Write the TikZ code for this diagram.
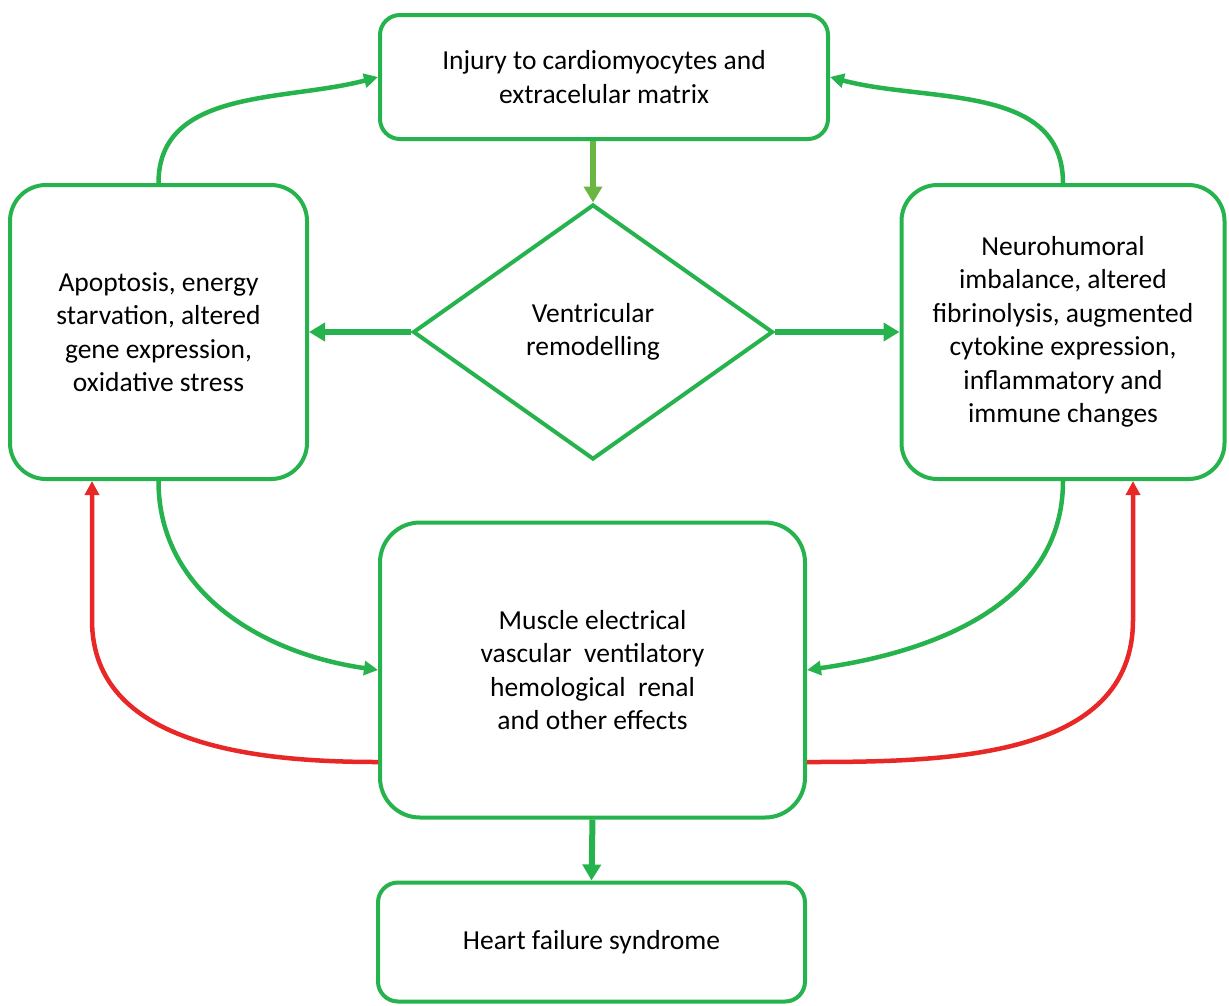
\documentclass[tikz,border=0pt]{standalone}
\usepackage{fontspec}
\setmainfont{Carlito}
\usetikzlibrary{arrows.meta,shapes.geometric}
\definecolor{gr}{RGB}{38,178,76}
\definecolor{lgr}{RGB}{106,182,66}
\definecolor{rd}{RGB}{232,40,38}
\tikzset{
  box/.style={draw=gr, line width=4pt, rectangle, align=center, inner sep=0pt,
    font=\fontsize{27.5}{33.5}\selectfont, text=black},
  garr/.style={draw=gr, line width=4.5pt, -{Triangle[length=14pt,width=14pt]}},
  thick arr/.style={draw=gr, line width=6pt, -{Triangle[length=16pt,width=18pt]}},
  rarr/.style={draw=rd, line width=4.5pt, -{Triangle[length=14pt,width=14pt]}},
}
\begin{document}
\begin{tikzpicture}[x=1pt,y=-1pt]
\useasboundingbox (0,0) rectangle (1229,1005);
\node[box, rounded corners=20pt, minimum width=448pt, minimum height=124pt] (top) at (604,77)
  {Injury to cardiomyocytes and\\extracelular matrix};
\node[box, rounded corners=36pt, minimum width=297pt, minimum height=294pt] (left) at (158.5,332)
  {Apoptosis, energy\\starvation, altered\\gene expression,\\oxidative stress};
\node[box, rounded corners=36pt, minimum width=323pt, minimum height=294pt] (right) at (1063,332)
  {Neurohumoral\\imbalance, altered\\fibrinolysis, augmented\\cytokine expression,\\inflammatory and\\immune changes};
\node[box, diamond, minimum width=360pt, minimum height=255pt, aspect=1.41] (dia) at (593,332)
  {Ventricular\\remodelling};
\node[box, rounded corners=40pt, minimum width=425pt, minimum height=295pt] (mid) at (592.5,670)
  {Muscle electrical\\vascular\ \ ventilatory\\hemological\ \ renal\\and other effects};
\node[box, rounded corners=20pt, minimum width=427pt, minimum height=119pt] (bot) at (591.5,942)
  {Heart failure syndrome};
% coordinates for red bends
\coordinate (rl) at (92,620);
\coordinate (rr) at (1133,620);
% connectors
\draw[draw=lgr, line width=6pt, -{Triangle[length=16pt,width=18pt]}] (top.south -| dia.north) -- (dia.north);
\draw[thick arr] (dia.west) -- (left.east);
\draw[thick arr] (dia.east) -- (right.west);
\draw[garr] (left.north) to[out=90,in=195] (top.west);
\draw[garr] (right.north) to[out=90,in=-15] (top.east);
\draw[garr] (left.south) to[out=-90,in=172] (mid.west);
\draw[garr] (right.south) to[out=-90,in=8] (mid.east);
\draw[rarr] ([yshift=-92pt]mid.west) to[out=180,in=-90] (rl) -- (left.south -| rl);
\draw[rarr] ([yshift=-92pt]mid.east) to[out=0,in=-90] (rr) -- (right.south -| rr);
\draw[thick arr] (mid.south) -- (bot.north);
\end{tikzpicture}
\end{document}
